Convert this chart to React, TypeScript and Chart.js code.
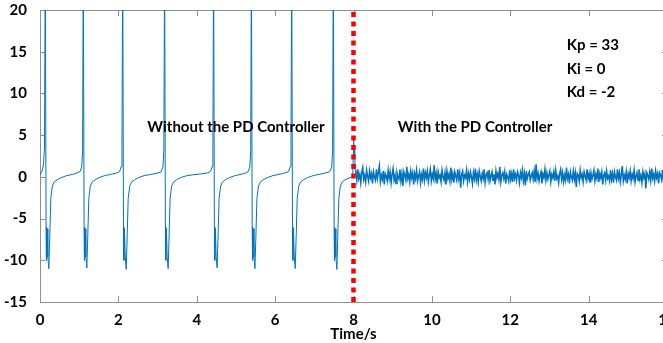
import React, { useEffect, useRef } from 'react';
import { Chart, registerables } from 'chart.js';

Chart.register(...registerables);

// Oscillating response without controller (time in s, value)
const oscTime = [
  0, 0.06, 0.09, 0.115, 0.135,
  0.155, 0.165, 0.18, 0.2, 0.225, 0.25, 0.275, 0.315, 0.365, 0.435, 0.535, 0.685, 0.835, 0.935, 1.025, 1.065, 1.087, 1.105,
  1.125, 1.135, 1.15, 1.17, 1.195, 1.22, 1.245, 1.285, 1.335, 1.405, 1.505, 1.655, 1.805, 1.93, 2.03, 2.07, 2.092, 2.11,
  2.13, 2.14, 2.155, 2.175, 2.2, 2.225, 2.25, 2.29, 2.34, 2.41, 2.51, 2.66, 2.81, 2.96, 3.09, 3.138, 3.16, 3.18,
  3.2, 3.21, 3.225, 3.245, 3.27, 3.295, 3.32, 3.36, 3.41, 3.48, 3.58, 3.73, 3.9, 4.1, 4.28, 4.35, 4.39, 4.412, 4.43,
  4.45, 4.46, 4.475, 4.495, 4.52, 4.545, 4.57, 4.61, 4.66, 4.73, 4.83, 4.98, 5.13, 5.24, 5.315, 5.355, 5.377, 5.395,
  5.415, 5.425, 5.44, 5.46, 5.485, 5.51, 5.535, 5.575, 5.625, 5.695, 5.795, 5.945, 6.095, 6.22, 6.34, 6.383, 6.405, 6.423,
  6.443, 6.453, 6.468, 6.488, 6.513, 6.538, 6.563, 6.603, 6.653, 6.723, 6.823, 6.973, 7.123, 7.25, 7.39, 7.445, 7.467, 7.485,
  7.505, 7.515, 7.53, 7.55, 7.575, 7.6, 7.625, 7.665, 7.715, 7.785, 7.885, 7.98, 8.005, 8.015, 8.03, 8.045,
];
const oscValue = [
  0.25, 0.8, 1.5, 3.5, 26,
  -6, -10, -6.2, -9.6, -11, -7, -2.6, -1.1, -0.6, -0.35, -0.1, 0.15, 0.3, 0.45, 0.65, 1.2, 3.2, 26,
  -6, -10, -6.2, -9.6, -10.9, -7, -2.6, -1.1, -0.6, -0.35, -0.1, 0.15, 0.3, 0.42, 0.62, 1.2, 3.2, 26,
  -6, -10, -6.2, -9.6, -11.1, -7, -2.6, -1.1, -0.6, -0.35, -0.1, 0.15, 0.28, 0.4, 0.6, 1.2, 3.2, 26,
  -6, -10, -6.2, -9.6, -11, -7, -2.6, -1.1, -0.6, -0.35, -0.1, 0.12, 0.25, 0.35, 0.48, 0.65, 1.2, 3.2, 26,
  -6, -10, -6.2, -9.6, -10.9, -7, -2.6, -1.1, -0.6, -0.35, -0.1, 0.15, 0.3, 0.45, 0.65, 1.2, 3.2, 26,
  -6, -10, -6.2, -9.6, -11, -7, -2.6, -1.1, -0.6, -0.35, -0.1, 0.15, 0.3, 0.42, 0.62, 1.2, 3.2, 26,
  -6, -10, -6.2, -9.6, -11, -7, -2.6, -1.1, -0.6, -0.35, -0.1, 0.15, 0.3, 0.42, 0.62, 1.2, 3.2, 26,
  -6, -10, -6.2, -9.6, -11.1, -7, -2.6, -1.1, -0.6, -0.35, -0.15, 0.0, 4.4, 2.5, 3.2, 0.8,
];

// Residual noise with the PD controller (sampled every noiseStep s from noiseStart)
const noiseStart = 8.06;
const noiseStep = 0.025;
const noiseValues = [
  0.6, -0.4, 0.9, -0.2, 0.3, -0.7, 0.5, 1.1, -0.3, 0.2, -0.6, 0.8, 0.1, -0.5, 0.7, -0.1, 0.4, -0.8, 0.6, 0.0,
  -0.4, 0.9, -0.2, 0.5, 1.3, -0.6, 0.2, -0.3, 0.7, -0.9, 0.4, 0.1, -0.5, 0.8, -0.2, 0.6, -0.7, 0.3, 1.0, -0.4,
  0.2, -0.8, 0.5, 0.0, -0.3, 0.9, -0.5, 0.4, -1.1, 0.6, 0.2, -0.4, 1.2, -0.2, 0.3, -0.6, 0.7, -0.1, 0.5, -0.9,
  0.4, -0.2, 0.8, -0.5, 0.1, 0.6, -0.7, 0.3, -0.3, 1.0, -0.4, 0.5, -0.1, 0.7, -0.6, 0.2, 0.9, -0.5, 0.3, -0.2,
  1.4, -0.3, 0.4, -0.8, 0.6, -0.1, 0.2, -0.6, 0.8, 0.0, -0.4, 0.5, -0.9, 0.7, -0.2, 0.3, -0.5, 1.1, -0.3, 0.4,
  -0.7, 0.6, 0.1, -0.4, 0.9, -0.2, 0.5, -1.3, 0.3, 0.7, -0.5, 0.2, -0.1, 0.8, -0.6, 0.4, -0.3, 0.6, 0.0, -0.8,
  0.5, -0.2, 1.0, -0.4, 0.3, -0.6, 0.7, 0.1, -0.5, 0.4, -0.2, 0.9, -0.7, 0.2, 0.5, -0.3, 0.8, -0.5, 0.1, 0.6,
  -0.4, 0.3, -0.9, 0.7, -0.1, 0.4, -0.3, 1.2, -0.6, 0.2, 0.5, -0.2, 0.6, -0.8, 0.3, 0.0, -0.5, 0.8, -0.3, 0.4,
  -0.6, 0.9, -0.2, 0.3, -0.4, 0.6, 0.2, -0.7, 0.5, -0.1, 0.8, -0.5, 0.4, -1.0, 0.7, -0.2, 0.3, 0.6, -0.4, 0.1,
  0.5, -0.3, 0.7, -0.6, 1.5, -0.2, 0.4, -0.5, 0.2, 0.6, -0.8, 0.3, -0.1, 0.9, -0.4, 0.5, -0.3, 0.2, 0.7, -0.6,
  0.3, -0.1, 0.6, -0.5, 0.8, -0.2, 0.1, -0.7, 0.4, 0.9, -0.3, 0.5, -0.6, 0.2, -0.4, 1.1, -0.2, 0.3, -0.8, 0.6,
  0.0, -0.4, 0.7, -0.3, 0.5, -1.2, 0.4, 0.2, -0.5, 0.8, -0.1, 0.3, -0.6, 0.6, 0.1, -0.4, 0.9, -0.2, 0.4, -0.7,
  0.5, -0.3, 0.2, 0.8, -0.5, 0.3, -0.2, 1.0, -0.6, 0.4, -0.1, 0.6, -0.9, 0.2, 0.5, -0.4, 0.7, -0.2, 0.1, -0.5,
  0.8, -0.3, 0.4, -0.7, 0.6, 0.0, -0.4, 0.9, -0.2, 0.5, -0.6, 0.3, 1.3, -0.5, 0.2, -0.3, 0.6, -0.8, 0.4, -0.1,
  0.7, -0.5, 0.3, -0.2, 0.8, -0.6, 0.1, 0.5, -0.4, 0.9, -0.3, 0.2, -0.7, 0.6, -0.1, 0.4, -1.4, 0.5, 0.2, -0.3,
  0.6, -0.4, 1.0, -0.2, 0.3, -0.5, 0.7, -0.1, 0.4, -0.8, 0.5, 0.2, -0.3, 0.8, -0.6, 0.3, -0.2, 0.6, -0.4, 0.5,
];

// Switch-on time of the PD controller
const switchTime = [8.0, 8.0];
const switchRange = [-15, 20];

const xRange = [0, 16];
const xStep = 2;
const yRange = [-15, 20];
const yStep = 5;

const regionLabels = ['Without the PD Controller', 'With the PD Controller'];
const gainLabels = ['Kp = 33', 'Ki = 0', 'Kd = -2'];
const xTitle = 'Time/s';

const FONT = 'Lato, "Open Sans", sans-serif';

const decorPlugin = {
  id: 'decor',
  beforeDatasetsDraw(chart: any) {
    const { ctx, chartArea: a, scales } = chart;
    const xs = scales.x;
    const ys = scales.y;
    ctx.save();
    ctx.strokeStyle = '#8f8f8f';
    ctx.lineWidth = 1;
    ctx.beginPath();
    ctx.rect(a.left + 0.5, a.top + 0.5, a.right - a.left, a.bottom - a.top);
    xs.ticks.forEach((t: any) => {
      const px = Math.round(xs.getPixelForValue(t.value)) + 0.5;
      ctx.moveTo(px, a.bottom);
      ctx.lineTo(px, a.bottom - 6);
      ctx.moveTo(px, a.top);
      ctx.lineTo(px, a.top + 6);
    });
    ys.ticks.forEach((t: any) => {
      const py = Math.round(ys.getPixelForValue(t.value)) + 0.5;
      ctx.moveTo(a.left, py);
      ctx.lineTo(a.left + 5, py);
      ctx.moveTo(a.right, py);
      ctx.lineTo(a.right - 5, py);
    });
    ctx.stroke();
    ctx.restore();
  },
  afterDatasetsDraw(chart: any) {
    const { ctx, scales } = chart;
    const xs = scales.x;
    const ys = scales.y;
    ctx.save();
    ctx.fillStyle = '#000';
    ctx.font = `bold 15px ${FONT}`;
    ctx.textBaseline = 'middle';
    ctx.textAlign = 'center';
    ctx.fillText(regionLabels[0], xs.getPixelForValue(5.0), ys.getPixelForValue(6.0));
    ctx.fillText(regionLabels[1], xs.getPixelForValue(11.1), ys.getPixelForValue(6.0));
    ctx.textAlign = 'left';
    const gy = [15.8, 12.95, 10.2];
    gainLabels.forEach((g, i) => {
      ctx.fillText(g, xs.getPixelForValue(13.44), ys.getPixelForValue(gy[i]));
    });
    ctx.restore();
  },
};

export default function App() {
  const ref = useRef<HTMLCanvasElement | null>(null);

  useEffect(() => {
    if (!ref.current) return;
    const signal: { x: number; y: number }[] = [];
    oscTime.forEach((t, i) => signal.push({ x: t, y: oscValue[i] }));
    noiseValues.forEach((v, i) => signal.push({ x: noiseStart + i * noiseStep, y: v }));
    const marker = switchTime.map((t, i) => ({ x: t, y: switchRange[i] }));

    const chart = new Chart(ref.current, {
      type: 'line',
      data: {
        datasets: [
          {
            data: marker,
            borderColor: '#ff0000',
            borderWidth: 4.5,
            borderDash: [5, 4.5],
            borderCapStyle: 'butt',
            pointRadius: 0,
            fill: false,
          },
          {
            data: signal,
            borderColor: '#0072BD',
            borderWidth: 1,
            pointRadius: 0,
            tension: 0,
            fill: false,
            segment: {
              borderWidth: (c: any) => (c.p0.parsed.x >= noiseStart ? 1.5 : 1),
            },
          },
        ],
      },
      options: {
        animation: false,
        responsive: false,
        devicePixelRatio: 1,
        events: [],
        layout: { padding: { top: 10, right: 13, bottom: 0, left: 0 } },
        plugins: { legend: { display: false }, tooltip: { enabled: false } },
        scales: {
          x: {
            type: 'linear',
            min: xRange[0],
            max: xRange[1],
            grid: { display: false, drawTicks: false },
            border: { display: false },
            ticks: {
              stepSize: xStep,
              padding: 9,
              color: '#000',
              font: { family: FONT, size: 15, weight: 'bold' },
              maxRotation: 0,
            },
            title: {
              display: true,
              text: xTitle,
              color: '#000',
              font: { family: FONT, size: 15, weight: 'bold' },
              padding: { top: 0, bottom: 0 },
            },
            afterFit(scale: any) {
              scale.height = 41;
              scale.paddingLeft = 0;
              scale.paddingRight = 0;
            },
          },
          y: {
            type: 'linear',
            min: yRange[0],
            max: yRange[1],
            grid: { display: false, drawTicks: false },
            border: { display: false },
            ticks: {
              stepSize: yStep,
              padding: 13,
              color: '#000',
              font: { family: FONT, size: 15, weight: 'bold' },
            },
            afterFit(scale: any) {
              scale.width = 40;
              scale.paddingTop = 0;
              scale.paddingBottom = 0;
            },
          },
        },
      },
      plugins: [decorPlugin],
    });
    return () => chart.destroy();
  }, []);

  return (
    <div
      style={{
        position: 'fixed',
        left: 0,
        top: 0,
        width: 663,
        height: 343,
        overflow: 'hidden',
        background: '#fff',
      }}
    >
      <canvas ref={ref} width={680} height={343} style={{ display: 'block' }} />
    </div>
  );
}
